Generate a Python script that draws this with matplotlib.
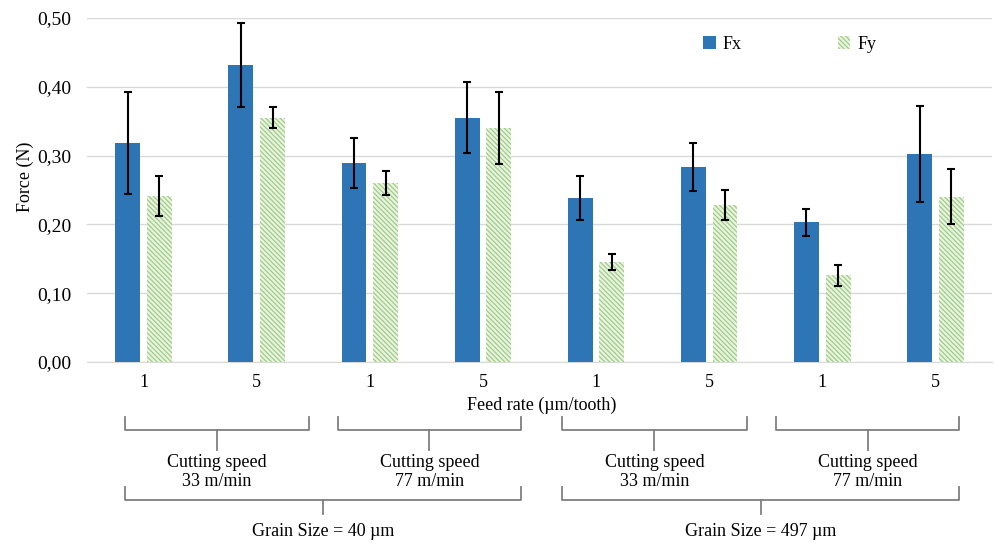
import numpy as np
import matplotlib.pyplot as plt
from matplotlib.ticker import FuncFormatter
from matplotlib.transforms import blended_transform_factory

# Mean cutting forces and error bars (N)
feed_labels = ["1", "5", "1", "5", "1", "5", "1", "5"]
fx_mean = [0.318, 0.432, 0.289, 0.355, 0.238, 0.283, 0.203, 0.302]
fx_err = [0.074, 0.061, 0.036, 0.052, 0.032, 0.035, 0.020, 0.070]
fy_mean = [0.241, 0.355, 0.260, 0.340, 0.145, 0.228, 0.126, 0.240]
fy_err = [0.029, 0.015, 0.018, 0.053, 0.012, 0.022, 0.015, 0.040]

speed_labels = ["Cutting speed\n33 m/min", "Cutting speed\n77 m/min",
                "Cutting speed\n33 m/min", "Cutting speed\n77 m/min"]
grain_labels = ["Grain Size = 40 µm", "Grain Size = 497 µm"]

plt.rcParams['font.family'] = ['Liberation Serif', 'DejaVu Serif']
plt.rcParams['hatch.linewidth'] = 0.9
FS = 13

fig = plt.figure(figsize=(9.94, 5.45), dpi=100)
ax = fig.add_axes([0.0875, 0.336, 0.9105, 0.631])

x = np.arange(len(feed_labels))
w = 0.22
off = 0.14
ax.bar(x - off, fx_mean, w, color="#2E75B6", label="Fx", zorder=2)
ax.bar(x + off, fy_mean, w, facecolor="#eaf4e2", edgecolor="#9fcc84", linewidth=0,
       hatch="\\\\\\\\\\\\\\", label="Fy", zorder=2)
ax.errorbar(x - off, fx_mean, yerr=fx_err, fmt="none", ecolor="black", elinewidth=1.5,
            capsize=3, capthick=1.5, zorder=3)
ax.errorbar(x + off, fy_mean, yerr=fy_err, fmt="none", ecolor="black", elinewidth=1.5,
            capsize=3, capthick=1.5, zorder=3)

ax.set_xlim(-0.5, 7.5)
ax.set_ylim(0, 0.5)
ax.set_yticks(np.arange(0, 0.51, 0.1))
ax.yaxis.set_major_formatter(FuncFormatter(lambda v, p: f"{v:.2f}".replace(".", ",")))
ax.set_xticks(x)
ax.set_xticklabels(feed_labels)
ax.tick_params(length=0, labelsize=FS)
ax.tick_params(axis="x", pad=9)
ax.tick_params(axis="y", pad=11, labelsize=14)
ax.grid(axis="y", color="#d9d9d9", linewidth=1, zorder=0)
for s in ["top", "right", "left"]:
    ax.spines[s].set_visible(False)
ax.spines["bottom"].set_color("#d9d9d9")
ax.spines["bottom"].set_zorder(1)

fig.text(25 / 994, 1 - 177 / 545, "Force (N)", rotation=90, ha="center", va="center", fontsize=FS)
fig.text(0.545, 1 - 405 / 545, "Feed rate (µm/tooth)", ha="center", va="center", fontsize=FS)

ax.legend(loc="upper left", bbox_to_anchor=(703 / 994, 1 - 36 / 545),
          bbox_transform=fig.transFigure, ncol=2, frameon=False, fontsize=FS,
          handlelength=0.7, handleheight=0.7, columnspacing=5.3, handletextpad=0.4,
          borderpad=0, borderaxespad=0)

# Group brackets under the axis (extents in category units)
speed_spans = [(-0.165, 1.46), (1.715, 3.34), (3.70, 5.33), (5.59, 7.21)]
grain_spans = [(speed_spans[0][0], speed_spans[1][1]), (speed_spans[2][0], speed_spans[3][1])]

tr = blended_transform_factory(ax.transData, fig.transFigure)
bc = "#7f7f7f"


def bracket(x0, x1, ytop, ybar, ystem):
    xc = (x0 + x1) / 2
    yt, yb, ys = 1 - ytop / 545, 1 - ybar / 545, 1 - ystem / 545
    ax.plot([x0, x0, x1, x1], [yt, yb, yb, yt], color=bc, lw=1.3, transform=tr, clip_on=False)
    ax.plot([xc, xc], [yb, ys], color=bc, lw=1.3, transform=tr, clip_on=False)
    return xc


for label, (x0, x1) in zip(speed_labels, speed_spans):
    xc = bracket(x0, x1, 417, 430, 450)
    ax.text(xc, 1 - 472 / 545, label, ha="center", va="center", fontsize=FS,
            linespacing=1.2, transform=tr)

for label, (x0, x1) in zip(grain_labels, grain_spans):
    xc = bracket(x0, x1, 487, 500, 514)
    ax.text(xc, 1 - 532 / 545, label, ha="center", va="center", fontsize=FS, transform=tr)

fig.savefig("out.png", dpi=100)
